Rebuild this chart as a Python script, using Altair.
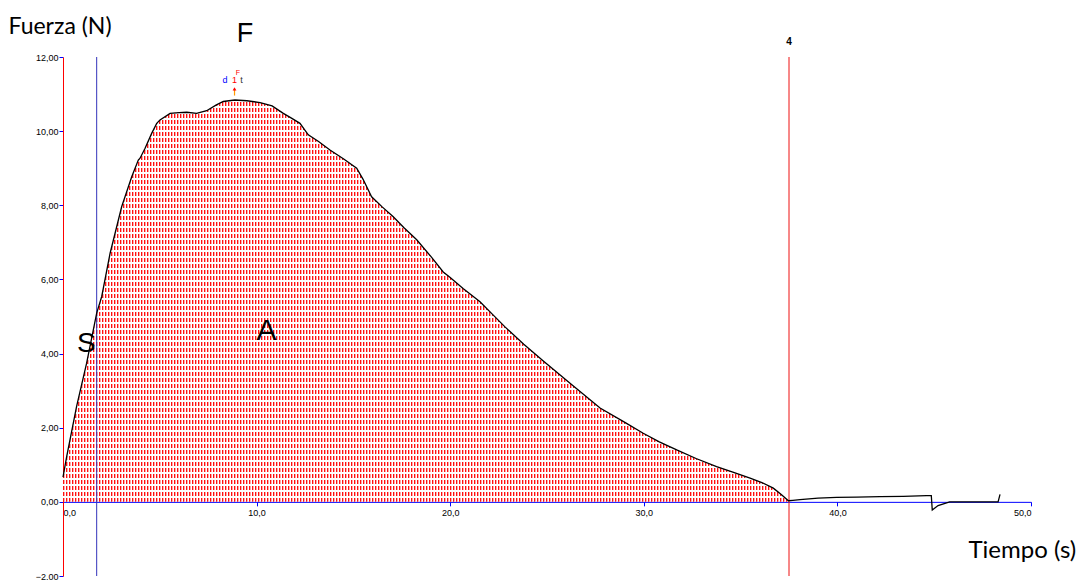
import altair as alt
import pandas as pd

# ---- data ----
t_s = [0.0, 0.19, 0.7, 1.22, 1.74, 2.0, 2.43, 3.03, 3.55, 3.89, 3.98, 4.24, 4.58, 4.84,
       5.01, 5.53, 6.0, 6.39, 6.9, 7.42, 7.9, 8.28, 8.88, 9.5, 10.18, 10.8, 11.38, 11.8,
       12.24, 12.67, 13.2, 13.79, 14.5, 15.17, 15.5, 15.94, 16.5, 17.06, 17.6, 18.27,
       19.0, 19.64, 20.0, 20.68, 21.54, 22.2, 22.83, 23.8, 24.81, 26.3, 27.74, 29.0,
       29.97, 30.8, 31.7, 32.7, 33.76, 34.6, 35.49, 36.1, 36.69, 37.1, 37.47,
       37.7, 38.07, 39.0, 39.96, 41.0, 42.2, 43.4, 44.6, 44.85, 44.9, 45.2, 45.8,
       46.5, 47.5, 48.3, 48.4]
f_n = [0.67, 1.22, 2.57, 3.74, 5.09, 5.54, 6.7, 7.96, 8.77, 9.22, 9.27, 9.54, 9.94, 10.21,
       10.30, 10.48, 10.50, 10.51, 10.48, 10.55, 10.70, 10.80, 10.84, 10.82, 10.77, 10.68,
       10.48, 10.35, 10.21, 9.90, 9.72, 9.49, 9.25, 9.0, 8.7, 8.23, 7.95, 7.69, 7.40, 7.07,
       6.62, 6.2, 6.05, 5.75, 5.4, 5.05, 4.72, 4.25, 3.8, 3.15, 2.53, 2.15,
       1.85, 1.62, 1.40, 1.17, 0.95, 0.80, 0.64, 0.52, 0.37, 0.20, 0.03,
       0.04, 0.06, 0.10, 0.12, 0.13, 0.14, 0.15, 0.17, 0.17, -0.22, -0.10, 0.0,
       0.0, 0.0, 0.0, 0.2]
x_ticks = [0, 10, 20, 30, 40, 50]
y_ticks = [-2, 0, 2, 4, 6, 8, 10, 12]
marker_lines = [1.74, 37.5]
fill_end = 37.47

df = pd.DataFrame({"t": t_s, "F": f_n})

W, H = 968, 519
xscale = alt.Scale(domain=[0, 50], nice=False, zero=False)
yscale = alt.Scale(domain=[-2, 12], nice=False, zero=False)

xaxis = alt.Axis(values=x_ticks, title="Tiempo (s)", grid=False,
                 labelExpr="replace(format(datum.value, '.1f'), '.', ',')",
                 domainColor="#0000ff", tickColor="#0000ff", tickSize=4,
                 labelFont="Liberation Sans", labelFontSize=9, labelColor="#000000",
                 labelPadding=3, offset=-H * 2 / 14,
                 titleFont="Lato", titleFontSize=24, titleFontWeight="normal",
                 titleColor="#000000", titleX=905, titleY=56, titleAlign="left",
                 titleBaseline="alphabetic", titleAnchor="start")
yaxis = alt.Axis(values=y_ticks, title="Fuerza (N)", grid=False,
                 labelExpr="replace(format(datum.value, '.2f'), '.', ',')",
                 domainColor="#ff0000", tickColor="#0000ff", tickSize=4,
                 labelFont="Liberation Sans", labelFontSize=9, labelColor="#000000",
                 labelPadding=1,
                 titleFont="Lato", titleFontSize=23, titleFontWeight="normal",
                 titleColor="#000000", titleAngle=0, titleX=-55, titleY=-24,
                 titleAlign="left", titleBaseline="alphabetic", titleAnchor="start")

X = alt.X("t:Q", scale=xscale, axis=xaxis)
Y = alt.Y("F:Q", scale=yscale, axis=yaxis)

# dotted fill texture, aligned to whole pixels: red/pink columns, white row gaps
CLEAR = "rgba(255,255,255,0)"
fill_w = fill_end / 50 * W            # px width of the filled shape
fill_h = H * max(f_n) / 14            # px height of the filled shape

def stripes(total_px, period_px, parts):
    stops = []
    pos = 0.0
    while pos < total_px:
        for color, length in parts:
            a = min(pos / total_px, 1.0)
            b = min((pos + length) / total_px, 1.0)
            stops.append(alt.GradientStop(color=color, offset=a))
            stops.append(alt.GradientStop(color=color, offset=b))
            pos += length
    return stops

col_stops = stripes(fill_w, 3, [("#ff1010", 1), ("#ffa8a8", 1), (CLEAR, 1)])
row_stops = stripes(fill_h, 6, [("#ffffff", 2), (CLEAR, 4)])

base = alt.Chart(df)
fill_part = base.transform_filter(alt.datum.t <= 37.5)

area_cols = fill_part.mark_area(
    fill=alt.Gradient(gradient="linear", stops=col_stops, x1=0, x2=1, y1=0, y2=0)
).encode(x=X, y=Y)
area_rows = fill_part.mark_area(
    fill=alt.Gradient(gradient="linear", stops=row_stops, x1=0, x2=0, y1=0, y2=1)
).encode(x=X, y=Y)

curve = base.mark_line(color="#000000", strokeWidth=1.3).encode(x=X, y=Y)

rules_df = pd.DataFrame({"t": marker_lines, "F": [12, 12], "F2": [-2, -2],
                         "c": ["#3333bb", "#ee1111"]})
rules = alt.Chart(rules_df).mark_rule(strokeWidth=1).encode(
    x=X, y=Y, y2="F2:Q", color=alt.Color("c:N", scale=None))

def label(txt, t, f, **kw):
    return alt.Chart(pd.DataFrame({"t": [t], "F": [f], "txt": [txt]})).mark_text(
        align="center", baseline="alphabetic", **kw).encode(x=X, y=Y, text="txt:N")

labels = [
    label("S", 1.21, 4.05, font="Liberation Sans", fontSize=28, color="#000000"),
    label("A", 10.51, 4.37, font="Liberation Sans", fontSize=30, color="#000000"),
    label("F", 9.4, 12.4, font="Liberation Sans", fontSize=27, color="#000000"),
    label("4", 37.5, 12.32, font="Liberation Sans", fontSize=10, fontWeight="bold", color="#000000"),
    label("d", 8.37, 11.31, font="Liberation Sans", fontSize=9, color="#0000ff"),
    label("1", 8.86, 11.31, font="Liberation Sans", fontSize=9, color="#ff0000"),
    label("t", 9.22, 11.31, font="Liberation Sans", fontSize=9, color="#333333"),
    label("F", 9.04, 11.52, font="Liberation Sans", fontSize=7, color="#ff0000"),
]

arrow_df = pd.DataFrame({"t": [8.86], "F": [10.96], "F2": [11.15]})
arrow_shaft = alt.Chart(arrow_df).mark_rule(color="#ff9900", strokeWidth=1.2).encode(
    x=X, y=Y, y2="F2:Q")
arrow_head = alt.Chart(pd.DataFrame({"t": [8.86], "F": [11.14]})).mark_point(
    shape="triangle-up", size=14, filled=True, color="#ff0000", opacity=1).encode(x=X, y=Y)

chart = alt.layer(area_cols, area_rows, rules, curve, arrow_shaft, arrow_head, *labels).properties(
    width=W, height=H, autosize="none",
    padding={"left": 63, "top": 57, "right": 56, "bottom": 4},
    background="#ffffff",
).configure_view(stroke=None)

chart.save("out.html", embed_options={"renderer": "svg", "actions": False})
